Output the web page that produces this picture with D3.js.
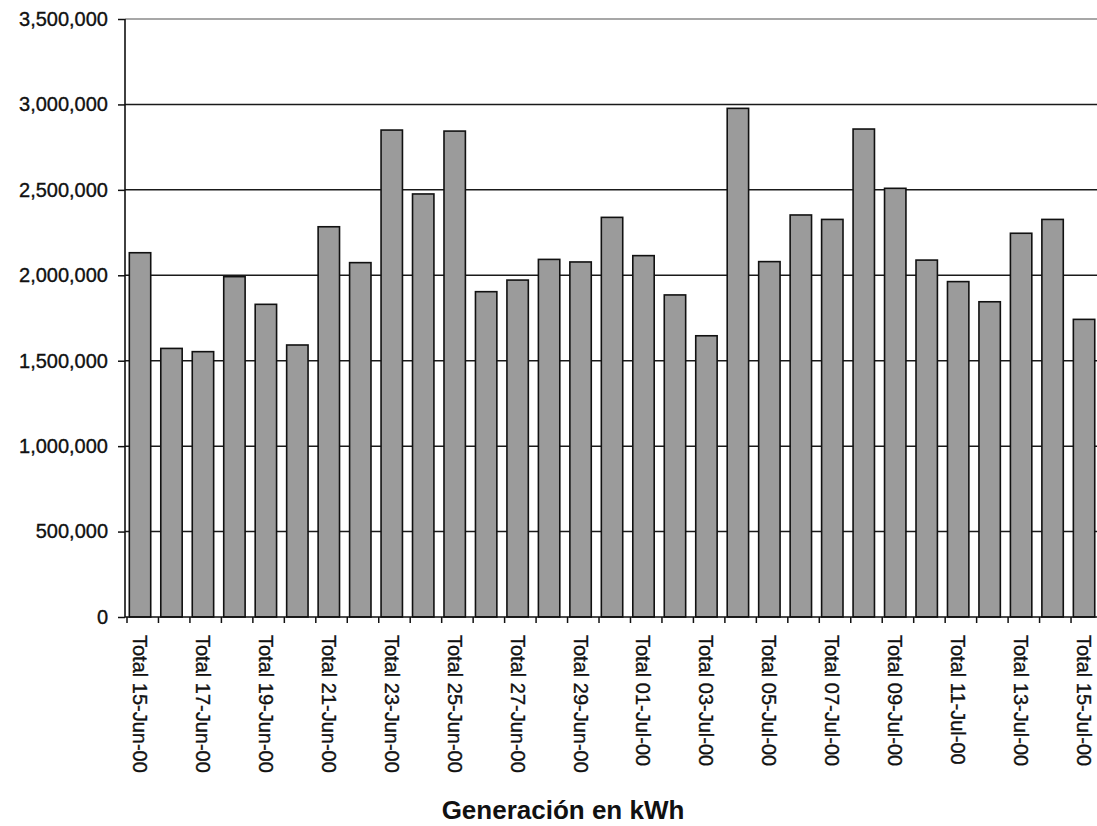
<!DOCTYPE html>
<html>
<head>
<meta charset="utf-8">
<script src="https://cdn.jsdelivr.net/npm/d3@7"></script>
<style>
  html, body { margin: 0; padding: 0; background: #ffffff; }
  svg { display: block; }
  text { font-family: "Liberation Sans", Arial, sans-serif; fill: #111; }
  .lbl { stroke: #111; stroke-width: 0.35px; }
</style>
</head>
<body>
<svg id="chart" width="1097" height="826"></svg>
<script>
const categories = [
  "Total 15-Jun-00","Total 16-Jun-00","Total 17-Jun-00","Total 18-Jun-00","Total 19-Jun-00",
  "Total 20-Jun-00","Total 21-Jun-00","Total 22-Jun-00","Total 23-Jun-00","Total 24-Jun-00",
  "Total 25-Jun-00","Total 26-Jun-00","Total 27-Jun-00","Total 28-Jun-00","Total 29-Jun-00",
  "Total 30-Jun-00","Total 01-Jul-00","Total 02-Jul-00","Total 03-Jul-00","Total 04-Jul-00",
  "Total 05-Jul-00","Total 06-Jul-00","Total 07-Jul-00","Total 08-Jul-00","Total 09-Jul-00",
  "Total 10-Jul-00","Total 11-Jul-00","Total 12-Jul-00","Total 13-Jul-00","Total 14-Jul-00",
  "Total 15-Jul-00"
];
const generation = [
  2132000, 1572000, 1553000, 1992000, 1830000,
  1592000, 2284000, 2074000, 2850000, 2476000,
  2844000, 1904000, 1972000, 2093000, 2078000,
  2339000, 2115000, 1885000, 1646000, 2977000,
  2080000, 2353000, 2327000, 2856000, 2509000,
  2089000, 1963000, 1845000, 2246000, 2327000,
  1742000
];
const yTicks = [0, 500000, 1000000, 1500000, 2000000, 2500000, 3000000, 3500000];
const title = "Generación en kWh";

(function () {
const svg = d3.select("#chart");
const mLeft = 125, mRight = 1102.5, mTop = 19, mBottom = 617;

const y = d3.scaleLinear().domain([0, 3500000]).range([mBottom, mTop]);
const xSlot = d3.scaleBand().domain(categories).range([mLeft + 2, mRight]).padding(0);
const xBar = d3.scaleBand().domain(categories).range([mLeft + 2, mRight])
  .paddingInner(0.32).paddingOuter(0.16).align(0.23);

const fmt = d3.format(",");

// gridlines
svg.append("g").selectAll("line").data(yTicks.filter(d => d > 0)).join("line")
  .attr("x1", mLeft).attr("x2", mRight)
  .attr("y1", d => y(d)).attr("y2", d => y(d))
  .attr("stroke", d => d === 3500000 ? "#8a8a8a" : "#1a1a1a")
  .attr("stroke-width", 1.5);

// bars
svg.append("g").selectAll("rect").data(categories).join("rect")
  .attr("x", d => xBar(d))
  .attr("width", xBar.bandwidth())
  .attr("y", (d, i) => y(generation[i]))
  .attr("height", (d, i) => y(0) - y(generation[i]))
  .attr("fill", "#9b9b9b")
  .attr("stroke", "#111")
  .attr("stroke-width", 1.6);

// y axis
const yAxis = d3.axisLeft(y).tickValues(yTicks).tickFormat(fmt).tickSize(7).tickPadding(10);
const gy = svg.append("g").attr("transform", `translate(${mLeft},0)`).call(yAxis);
gy.select(".domain").attr("stroke", "#111").attr("stroke-width", 1.6).attr("d", `M0,${mTop}V${mBottom}`);
gy.selectAll(".tick line").attr("stroke", "#111").attr("stroke-width", 1.5);
gy.selectAll(".tick text").attr("class", "lbl").attr("font-size", 20)
  .attr("font-family", "Liberation Sans, Arial, sans-serif").attr("fill", "#111");

// x axis baseline
svg.append("line").attr("x1", mLeft).attr("x2", mRight).attr("y1", mBottom).attr("y2", mBottom)
  .attr("stroke", "#111").attr("stroke-width", 1.6);

// x tick marks at category boundaries
const boundaries = categories.map(d => xSlot(d)).concat([xSlot.range()[1]]);
svg.append("g").selectAll("line").data(boundaries).join("line")
  .attr("x1", d => d).attr("x2", d => d)
  .attr("y1", mBottom).attr("y2", mBottom + 6)
  .attr("stroke", "#111").attr("stroke-width", 1.5);

// x labels (every other category), rotated
svg.append("g").selectAll("text").data(categories.filter((d, i) => i % 2 === 0)).join("text")
  .attr("class", "lbl")
  .attr("transform", d => `translate(${xBar(d) + xBar.bandwidth() / 2},${mBottom + 18}) rotate(90)`)
  .attr("dy", "0.35em")
  .attr("text-anchor", "start")
  .attr("font-size", 20)
  .text(d => d);

// title
svg.append("text")
  .attr("x", 563).attr("y", 819)
  .attr("text-anchor", "middle")
  .attr("font-size", 26)
  .attr("font-weight", "bold")
  .text(title);
})();
</script>
</body>
</html>
